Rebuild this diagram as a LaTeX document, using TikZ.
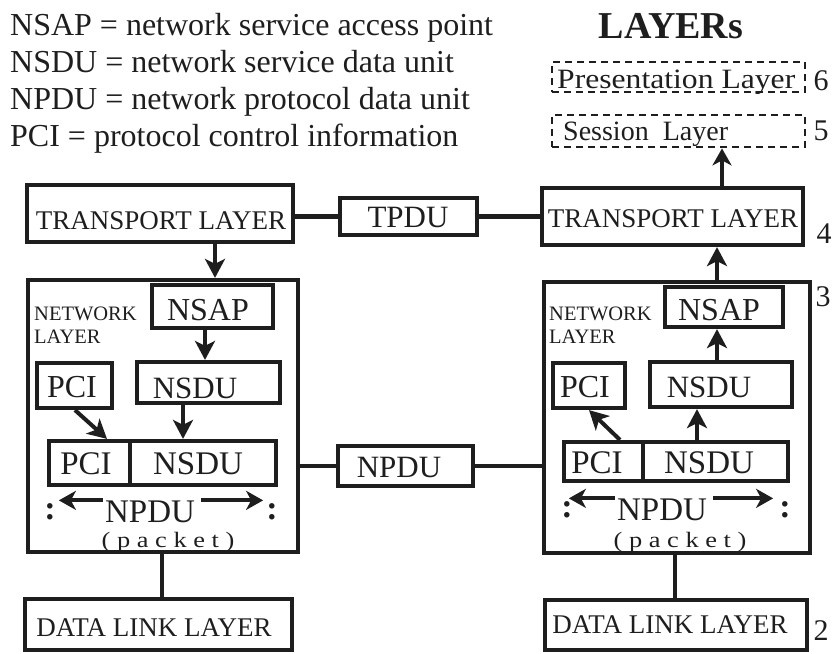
\documentclass[tikz,border=0pt]{standalone}
\usepackage{fontspec}
\setmainfont{Liberation Serif}
\usetikzlibrary{arrows.meta}
\definecolor{ink}{RGB}{30,30,30}
\newcommand{\fs}[1]{\fontsize{#1}{#1}\selectfont}
\tikzset{
  box/.style={draw=ink, line width=4.2pt, inner sep=0pt, rectangle},
  dbox/.style={draw=ink, line width=2.8pt, dash pattern=on 7pt off 5pt, inner sep=0pt, rectangle},
  txt/.style={text=ink, inner sep=0pt, anchor=base},
  arr/.style={draw=ink, line width=4pt, -{Stealth[length=19pt 0 0,width=20pt 0 0,inset=5pt 0]}},
  sarr/.style={draw=ink, line width=4pt, -{Stealth[length=17pt 0 0,width=19pt 0 0,inset=5pt 0]}},
  conn/.style={draw=ink, line width=4.2pt},
}
\begin{document}
\begin{tikzpicture}[x=1pt,y=-1pt]
\useasboundingbox (0,0) rectangle (834,653);
% legend
\node[txt,anchor=base west,font=\fs{32}] (lg1) at (10,35) {NSAP = network service access point};
\node[txt,anchor=base west,font=\fs{32}] (lg2) at (10,72) {NSDU = network service data unit};
\node[txt,anchor=base west,font=\fs{32}] (lg3) at (10,109) {NPDU = network protocol data unit};
\node[txt,anchor=base west,font=\fs{32}] (lg4) at (10,146) {PCI = protocol control information};
% title
\node[txt,font=\fs{38}\bfseries] (title) at (671,38) {LAYERs};
% dashed upper layers
\node[dbox,minimum width=253pt,minimum height=30pt] (pres) at (678.5,77) {};
\node[txt,anchor=base west,font=\fs{28}] (prest) at (557,88) {\scalebox{1.13}[1]{Presentation Layer}};
\node[dbox,minimum width=253pt,minimum height=32pt] (sess) at (678.5,131) {};
\node[txt,anchor=base west,font=\fs{28}] (sesst) at (563,140) {Session\ \ Layer};
\node[txt,font=\fs{30}] (n6) at (821,90) {6};
\node[txt,font=\fs{30}] (n5) at (821,140) {5};
% transport layers
\node[box,minimum width=266pt,minimum height=57pt] (tL) at (160,213.5) {};
\node[txt,font=\fs{27}] (tLt) at (161,229) {TRANSPORT LAYER};
\node[box,minimum width=137pt,minimum height=37pt] (tpdu) at (408.5,216.5) {};
\node[txt,font=\fs{31}] (tpdut) at (408,227) {TPDU};
\node[box,minimum width=261pt,minimum height=57pt] (tR) at (672.5,216.5) {};
\node[txt,font=\fs{27}] (tRt) at (673,227) {TRANSPORT LAYER};
\node[txt,font=\fs{30}] (n4) at (824,243) {4};
\draw[conn] (tL.east |- tpdu.center) -- (tpdu.west);
\draw[conn] (tpdu.east) -- (tR.west |- tpdu.center);
\coordinate (xs) at (722,0);
\draw[sarr] (tR.north -| xs) -- (sess.south -| xs);
% network layer left
\node[box,minimum width=270pt,minimum height=272pt] (netL) at (163,416) {};
\node[txt,anchor=base west,font=\fs{20.5}] (nlL1) at (34,320) {NETWORK};
\node[txt,anchor=base west,font=\fs{20.5}] (nlL2) at (34,343) {LAYER};
\node[box,minimum width=121pt,minimum height=43pt] (nsapL) at (212.5,306.5) {};
\node[txt,font=\fs{32}] (nsapLt) at (208,320) {NSAP};
\node[box,minimum width=143pt,minimum height=41pt] (nsduL) at (208.5,382.5) {};
\node[txt,font=\fs{31}] (nsduLt) at (195,398) {NSDU};
\node[box,minimum width=75pt,minimum height=45pt] (pciL) at (74.5,385.5) {};
\node[txt,font=\fs{32}] (pciLt) at (72,397) {PCI};
\node[box,minimum width=81pt,minimum height=44pt] (ipciL) at (89.5,463) {};
\node[txt,font=\fs{33}] (ipciLt) at (86,474) {PCI};
\node[box,minimum width=146pt,minimum height=44pt] (insduL) at (203,463) {};
\node[txt,font=\fs{33}] (insduLt) at (198,474) {NSDU};
\node[txt,font=\fs{33}] (npLt) at (150,522) {NPDU};
\draw[sarr] (npLt.west) ++(-2,-11) -- ++(-44,0);
\draw[sarr] (npLt.east) ++(6,-11) -- ++(62,0);
\node[txt,font=\fs{34}\bfseries] (dL1) at (50,519) {:};
\node[txt,font=\fs{34}\bfseries] (dL2) at (272,519) {:};
\node[txt,font=\fs{22}] (pkL) at (168,547) {\scalebox{1.2}[1]{( p a c k e t )}};
% network layer right
\node[box,minimum width=266pt,minimum height=271pt] (netR) at (677,417.5) {};
\node[txt,anchor=base west,font=\fs{20.5}] (nlR1) at (549,320) {NETWORK};
\node[txt,anchor=base west,font=\fs{20.5}] (nlR2) at (549,343) {LAYER};
\node[txt,font=\fs{30}] (n3) at (823,306) {3};
\node[box,minimum width=118pt,minimum height=40pt] (nsapR) at (724,307) {};
\node[txt,font=\fs{32}] (nsapRt) at (719,320) {NSAP};
\node[box,minimum width=142pt,minimum height=45pt] (nsduR) at (721,384.5) {};
\node[txt,font=\fs{31}] (nsduRt) at (709,397) {NSDU};
\node[box,minimum width=72pt,minimum height=45pt] (pciR) at (589,385.5) {};
\node[txt,font=\fs{32}] (pciRt) at (585,397) {PCI};
\node[box,minimum width=79pt,minimum height=39pt] (ipciR) at (603.5,461.5) {};
\node[txt,font=\fs{33}] (ipciRt) at (597,473) {PCI};
\node[box,minimum width=145pt,minimum height=39pt] (insduR) at (715.5,461.5) {};
\node[txt,font=\fs{33}] (insduRt) at (709,473) {NSDU};
\node[txt,font=\fs{33}] (npRt) at (662,520) {NPDU};
\draw[sarr] (npRt.west) ++(-2,-11) -- ++(-46,0);
\draw[sarr] (npRt.east) ++(6,-11) -- ++(60,0);
\node[txt,font=\fs{34}\bfseries] (dR1) at (567,517) {:};
\node[txt,font=\fs{34}\bfseries] (dR2) at (785,517) {:};
\node[txt,font=\fs{22}] (pkR) at (680,547) {\scalebox{1.2}[1]{( p a c k e t )}};
% middle NPDU
\node[box,minimum width=135pt,minimum height=40pt] (npdu) at (405.5,466) {};
\node[txt,font=\fs{31}] (npdut) at (399,477) {NPDU};
\draw[conn] (netL.east |- npdu.center) -- (npdu.west);
\draw[conn] (npdu.east) -- (netR.west |- npdu.center);
% data link
\node[box,minimum width=267pt,minimum height=51pt] (dlL) at (158.5,624.5) {};
\node[txt,font=\fs{27}] (dlLt) at (154,636) {DATA LINK LAYER};
\node[box,minimum width=262pt,minimum height=50pt] (dlR) at (676,625) {};
\node[txt,font=\fs{27}] (dlRt) at (670,633) {DATA LINK LAYER};
\node[txt,font=\fs{30}] (n2) at (821,640) {2};
\coordinate (xd1) at (162,0);
\coordinate (xd2) at (675,0);
\draw[conn] (netL.south -| xd1) -- (dlL.north -| xd1);
\draw[conn] (netR.south -| xd2) -- (dlR.north -| xd2);
% arrows left
\coordinate (x1) at (215,0);
\coordinate (x2) at (205,0);
\coordinate (x3) at (183,0);
\coordinate (x4) at (107,0);
\coordinate (x5) at (75,0);
\draw[arr] (tL.south -| x1) -- (netL.north -| x1);
\draw[arr] (nsapL.south -| x2) -- (nsduL.north -| x2);
\draw[arr] (nsduL.south -| x3) -- (insduL.north -| x3);
\draw[arr] (pciL.south -| x5) -- (ipciL.north -| x4);
% arrows right
\coordinate (y1) at (717,0);
\coordinate (y2) at (697,0);
\coordinate (y3) at (620,0);
\draw[arr] (netR.north -| y1) -- (tR.south -| y1);
\draw[arr] (nsduR.north -| y1) -- (nsapR.south -| y1);
\draw[arr] (insduR.north -| y2) -- (nsduR.south -| y2);
\draw[arr] (ipciR.north -| y3) -- (pciR.south);
\end{tikzpicture}
\end{document}
